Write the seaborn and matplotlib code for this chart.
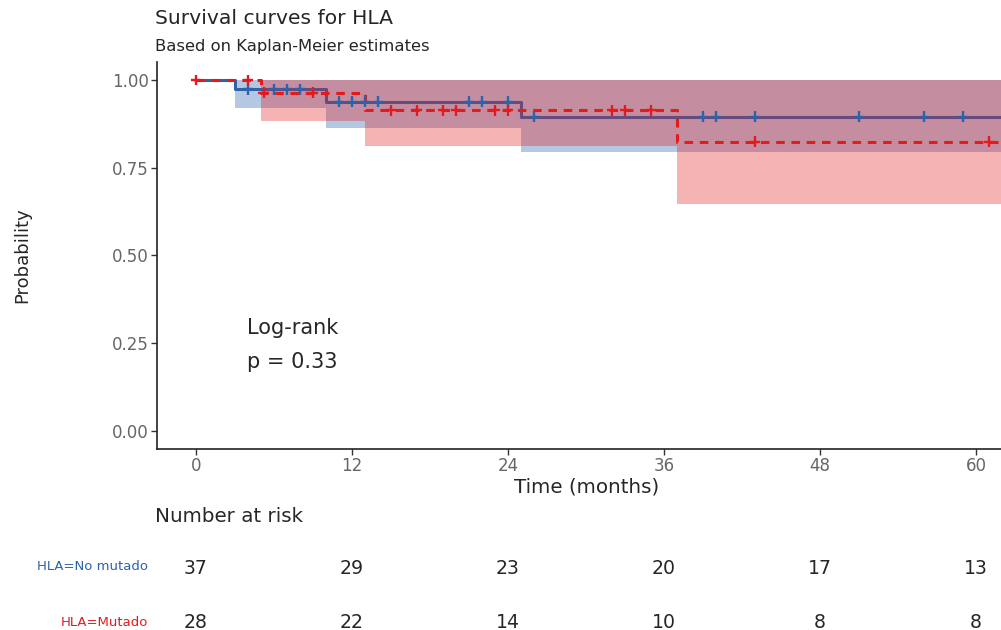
import numpy as np
import pandas as pd
import matplotlib
matplotlib.use("Agg")
import matplotlib.pyplot as plt
import matplotlib.transforms as mtransforms
import seaborn as sns

# ---------------- data ----------------
groups = ["HLA=No mutado", "HLA=Mutado"]

time_nomut = [0, 3, 10, 25, 62]
surv_nomut = [1.0, 0.973, 0.938, 0.895, 0.895]
lower_nomut = [1.0, 0.920, 0.863, 0.795, 0.795]
upper_nomut = [1.0, 1.0, 1.0, 1.0, 1.0]
cens_nomut = [4, 6, 7, 8, 11, 12, 13, 14, 21, 22, 24, 26, 39, 40, 43, 51, 56, 59]

time_mut = [0, 5, 13, 37, 62]
surv_mut = [1.0, 0.964, 0.913, 0.824, 0.824]
lower_mut = [1.0, 0.883, 0.812, 0.647, 0.647]
upper_mut = [1.0, 1.0, 1.0, 1.0, 1.0]
cens_mut = [0, 4, 5.2, 9, 15, 17, 19, 20, 23, 24, 32, 33, 35, 43, 61]

risk_times = [0, 12, 24, 36, 48, 60]
risk_nomut = [37, 29, 23, 20, 17, 13]
risk_mut = [28, 22, 14, 10, 8, 8]

x_ticks = [0, 12, 24, 36, 48, 60]
y_ticks = [0.0, 0.25, 0.50, 0.75, 1.00]
y_ticklabels = ["0.00", "0.25", "0.50", "0.75", "1.00"]

title = "Survival curves for HLA"
subtitle = "Based on Kaplan-Meier estimates"
logrank_lines = ["Log-rank", "p = 0.33"]

# ---------------- style ----------------
sns.set_theme(style="ticks")
plt.rcParams["font.family"] = ["DejaVu Sans"]

BLUE = "#2C63AB"
RED = "#E41A1C"
TXT = "#262626"
palette = {groups[0]: BLUE, groups[1]: RED}

W, H = 1001, 630
fig = plt.figure(figsize=(W / 100, H / 100), dpi=100)

def fx(px):
    return px / W

def fy(py):
    return 1 - py / H

ax_left, ax_right = 157, 1001
ax_top, ax_bottom = 62.4, 448.5
ax = fig.add_axes([fx(ax_left), fy(ax_bottom), fx(ax_right - ax_left), (ax_bottom - ax_top) / H])

# bands
ax.fill_between(time_nomut, lower_nomut, upper_nomut, step="post",
                color=BLUE, alpha=0.35, linewidth=0, zorder=1)

curve_df = pd.concat([
    pd.DataFrame({"time": time_nomut, "surv": surv_nomut, "group": groups[0]}),
    pd.DataFrame({"time": time_mut, "surv": surv_mut, "group": groups[1]}),
], ignore_index=True)

sns.lineplot(data=curve_df[curve_df.group == groups[0]], x="time", y="surv",
             color=BLUE, drawstyle="steps-post", linewidth=2.2,
             errorbar=None, ax=ax, zorder=2, legend=False)

ax.fill_between(time_mut, lower_mut, upper_mut, step="post",
                color=RED, alpha=0.33, linewidth=0, zorder=3)

sns.lineplot(data=curve_df[curve_df.group == groups[1]], x="time", y="surv",
             color=RED, drawstyle="steps-post", linewidth=2.2,
             errorbar=None, ax=ax, zorder=4, legend=False)
ax.lines[-1].set_dashes((2.8, 2.2))

def step_value(times, surv, t):
    idx = np.searchsorted(np.asarray(times), t, side="right") - 1
    return np.asarray(surv)[idx]

cens_df = pd.concat([
    pd.DataFrame({"time": cens_nomut,
                  "surv": [step_value(time_nomut, surv_nomut, t) for t in cens_nomut],
                  "group": groups[0]}),
    pd.DataFrame({"time": cens_mut,
                  "surv": [step_value(time_mut, surv_mut, t) for t in cens_mut],
                  "group": groups[1]}),
], ignore_index=True)

sns.scatterplot(data=cens_df, x="time", y="surv", hue="group", palette=palette,
                marker="+", s=60, linewidth=1.7, ax=ax, zorder=5, legend=False)

ax.set_xlim(-3.0, 61.92)
ax.set_ylim(-0.05, 1.05)
ax.set_xticks(x_ticks)
ax.set_yticks(y_ticks)
ax.set_yticklabels(y_ticklabels)
ax.set_xlabel("")
ax.set_ylabel("")
ax.tick_params(axis="both", labelsize=12, labelcolor="#666666", color="#333333",
               length=4, width=1.0, pad=2)
for s in ["top", "right"]:
    ax.spines[s].set_visible(False)
for s in ["left", "bottom"]:
    ax.spines[s].set_color("#222222")
    ax.spines[s].set_linewidth(1.2)

# log-rank annotation
ax.text(3.9, 0.294, logrank_lines[0], fontsize=15, color=TXT, va="center", ha="left")
ax.text(3.9, 0.197, logrank_lines[1], fontsize=15, color=TXT, va="center", ha="left")

# titles and axis labels
fig.text(fx(155), fy(19), title, fontsize=14.6, color=TXT, va="center", ha="left")
fig.text(fx(155), fy(46), subtitle, fontsize=11.8, color=TXT, va="center", ha="left")
fig.text(fx(22), fy(255), "Probability", fontsize=13, color=TXT, rotation=90,
         va="center", ha="center")
fig.text(fx(587), fy(487), "Time (months)", fontsize=14.3, color=TXT,
         va="center", ha="center")
fig.text(fx(155), fy(517), "Number at risk", fontsize=14.3, color=TXT,
         va="center", ha="left")

# risk table
trans = mtransforms.blended_transform_factory(ax.transData, fig.transFigure)
for t, n in zip(risk_times, risk_nomut):
    fig.text(t, fy(568), str(n), transform=trans, fontsize=13.6, color=TXT,
             ha="center", va="center")
for t, n in zip(risk_times, risk_mut):
    fig.text(t, fy(622), str(n), transform=trans, fontsize=13.6, color=TXT,
             ha="center", va="center")
fig.text(fx(148), fy(567), groups[0], fontsize=9.5, color=BLUE, ha="right", va="center")
fig.text(fx(148), fy(622), groups[1], fontsize=9.5, color=RED, ha="right", va="center")

fig.savefig("out.png", dpi=100)
